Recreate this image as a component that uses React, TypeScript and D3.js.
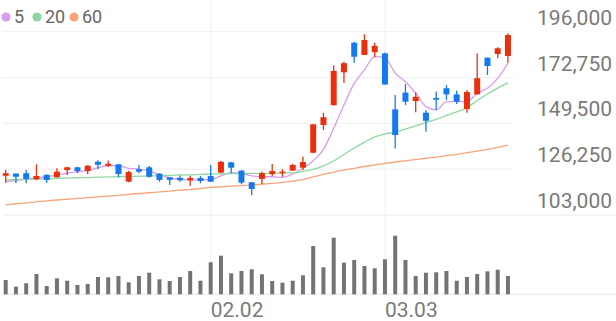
import React from "react";
import * as d3 from "d3";

const dates = [
  "01.05","01.06","01.07","01.08","01.09","01.12","01.13","01.14","01.15","01.16",
  "01.19","01.20","01.21","01.22","01.23","01.26","01.27","01.28","01.29","01.30",
  "02.02","02.03","02.04","02.05","02.06","02.09","02.10","02.11","02.12","02.13",
  "02.19","02.20","02.23","02.24","02.25","02.26","02.27","03.03","03.04","03.05",
  "03.06","03.09","03.10","03.11","03.12","03.13","03.16","03.17","03.18","03.19",
];

const openP = [
  122900,124000,124200,121100,123400,122100,125800,127200,125300,130000,
  128000,128700,119900,126200,127200,124000,122100,121900,120600,121800,
  122800,124500,129700,125500,119600,121300,123700,124300,125500,127000,
  134600,148700,158700,175400,190400,184200,185600,185000,156600,165100,
  160800,154900,162400,167300,164200,156800,164200,182800,184700,183700,
];
const highP = [
  125800,124200,125800,128700,123600,126700,127500,127500,128400,130800,
  130600,128900,125500,128400,127900,124100,122100,122900,122900,122800,
  128400,130400,129900,125800,119700,125000,128900,126200,128900,132600,
  149200,154900,178800,180800,190900,194700,190400,185400,163900,169500,
  165100,156300,165600,169000,166100,166400,185000,182900,188100,195200,
];
const lowP = [
  119400,119100,119100,120800,119400,122000,123300,124200,123800,126200,
  127500,122100,119600,124200,121900,119900,118200,119900,117900,119100,
  119800,124200,124200,118600,113100,118700,122800,122400,125400,125800,
  134300,146100,158600,170100,180300,184100,183000,169100,136800,158800,
  155100,145300,156300,161400,159300,154900,164200,174000,182500,180300,
];
const closeP = [
  124200,122400,121300,122800,120800,125000,127200,125300,128000,128500,
  129000,123800,124800,125000,122400,120800,120800,120600,121800,120300,
  119900,130000,127000,119400,116200,124200,125300,125000,128400,129900,
  149000,152600,176100,180000,183300,191800,188800,169200,143600,160500,
  163000,150800,161500,164200,160500,165400,172400,178600,187600,194300,
];

const ma5 = [
  119900,120500,121100,121900,122400,123300,124200,125000,125500,127000,
  128000,128000,126700,126300,125300,123300,121900,121100,120800,120800,
  121000,122800,124500,124100,122900,122400,122400,122100,123800,126700,
  130500,136300,147000,158800,169800,176600,183400,182700,175000,170600,
  164800,158000,156300,160500,160500,160500,164800,167300,172300,180100,
];
const ma20 = [
  120800,121000,121100,121300,121400,121600,121700,121900,122000,122200,
  122300,122400,122500,122700,122800,123000,123100,123300,123400,123600,
  123800,123900,124000,124000,124100,124100,124200,124300,124400,125100,
  126100,127900,130400,133700,137000,140000,142600,144100,145100,146600,
  148200,149900,151500,153500,155300,157500,161100,164400,167400,170000,
];
const ma60 = [
  108100,108700,109200,109700,110200,110600,111000,111400,111800,112200,
  112600,113000,113500,113900,114300,114700,115100,115600,116000,116500,
  117000,117300,117600,117900,118200,118600,119000,119500,120200,121000,
  122300,123600,124800,125800,126700,127600,128400,129200,129900,130500,
  131100,131800,132400,133100,133800,134600,135400,136300,137300,138400,
];

const volume = [
  14300,7600,11000,20300,8300,16000,13600,9300,10300,17300,
  17000,18300,12000,18300,21600,15000,13300,17300,23300,13600,
  32000,38600,21000,23300,25000,20000,13300,11600,13600,19000,
  48300,27000,56600,31600,34300,28300,26000,35000,58600,34300,
  18300,21600,22000,23300,13600,17300,20300,23000,24600,18300,
];

const priceTicks = [103000, 126250, 149500, 172750, 196000];
const dateTicks = ["02.02", "03.03"];
const maLabels = ["5", "20", "60"];
const maColors = ["#d89cf0", "#8ed8a0", "#f8a47c"];
const legendX = [6, 37, 74];

const UP = "#e8300e";
const DOWN = "#1479ee";

export default function App() {
  const W = 616;
  const H = 321;
  const x = d3.scaleBand<string>().domain(dates).range([0.575, 513.075]);
  const cx = (d: string) => (x(d) as number) + x.bandwidth() / 2;
  const y = d3.scaleLinear().domain([103000, 196000]).range([215, 31.7]);
  const yv = d3.scaleLinear().domain([0, 79000]).range([294.3, 215.3]);
  const fmt = d3.format(",");

  const line = d3
    .line<number>()
    .x((_, i) => cx(dates[i]))
    .y((v) => y(v))
    .curve(d3.curveMonotoneX);

  const maSeries = [ma5, ma20, ma60];
  const bodyW = 6;
  const volW = 4;

  return (
    <svg
      width={W}
      height={H}
      style={{ position: "absolute", left: 0, top: 0, background: "#fff" }}
      fontFamily="Roboto, 'Noto Sans', sans-serif"
    >
      {/* price gridlines */}
      {priceTicks.slice(1).map((t) => (
        <line key={"pg" + t} x1={3} x2={513} y1={y(t)} y2={y(t)} stroke="#efefef" strokeWidth={1} />
      ))}
      <line x1={3} x2={W} y1={y(103000)} y2={y(103000)} stroke="#ececec" strokeWidth={1.2} />
      <line x1={3} x2={W} y1={yv(0)} y2={yv(0)} stroke="#ececec" strokeWidth={1.2} />
      {/* vertical gridlines */}
      {dateTicks.map((d) => (
        <line key={"vg" + d} x1={cx(d)} x2={cx(d)} y1={0} y2={297} stroke="#f0f0f0" strokeWidth={1} />
      ))}

      {/* moving averages */}
      {maSeries.map((s, k) => (
        <path key={"ma" + k} d={line(s) as string} fill="none" stroke={maColors[k]} strokeWidth={1.3} />
      ))}

      {/* candles */}
      {dates.map((d, i) => {
        const o = openP[i];
        const c = closeP[i];
        const col = c >= o ? UP : DOWN;
        const top = y(Math.max(o, c));
        const bot = y(Math.min(o, c));
        return (
          <g key={"c" + d}>
            <line x1={cx(d)} x2={cx(d)} y1={y(highP[i])} y2={y(lowP[i])} stroke={col} strokeWidth={1.3} />
            <rect x={cx(d) - bodyW / 2} y={top} width={bodyW} height={Math.max(1.5, bot - top)} fill={col} />
          </g>
        );
      })}

      {/* volume */}
      {dates.map((d, i) => (
        <rect
          key={"v" + d}
          x={cx(d) - volW / 2}
          y={yv(volume[i])}
          width={volW}
          height={yv(0) - yv(volume[i])}
          fill="#737373"
        />
      ))}

      {/* price labels */}
      {priceTicks.map((t) => (
        <text key={"pl" + t} x={612} y={y(t) - 7} textAnchor="end" fontSize={21} fill="#7a7a7a">
          {fmt(t)}
        </text>
      ))}

      {/* date labels */}
      {dateTicks.map((d) => (
        <text key={"dl" + d} x={cx(d)} y={316.5} textAnchor="start" fontSize={21} fill="#7a7a7a">
          {d}
        </text>
      ))}

      {/* legend */}
      {maLabels.map((lab, k) => (
        <g key={"lg" + lab}>
          <circle cx={legendX[k]} cy={17} r={4.6} fill={maColors[k]} />
          <text x={legendX[k] + 8} y={22.6} fontSize={18} fill="#666">
            {lab}
          </text>
        </g>
      ))}
    </svg>
  );
}
